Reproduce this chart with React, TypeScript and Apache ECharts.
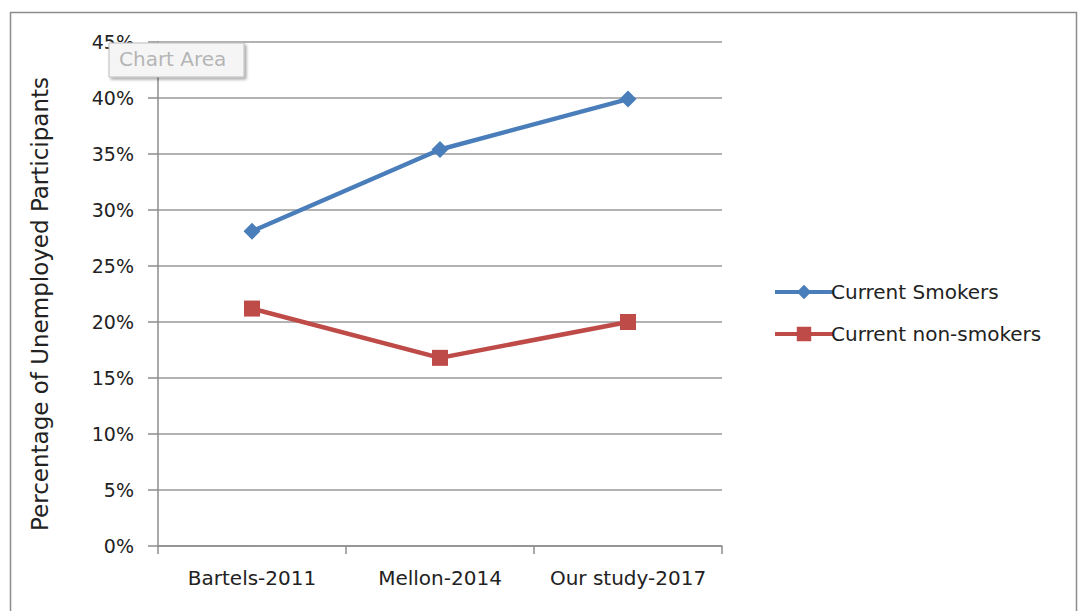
import React, { useEffect, useRef } from "react";
import * as echarts from "echarts";

const categories = ["Bartels-2011", "Mellon-2014", "Our study-2017"];
const smokers = [0.281, 0.354, 0.399];
const nonSmokers = [0.212, 0.168, 0.2];
const seriesNames = ["Current Smokers", "Current non-smokers"];
const yTicks = { min: 0, max: 0.45, interval: 0.05 };
const yTitle = "Percentage of Unemployed Participants";

export default function App() {
  const ref = useRef<HTMLDivElement>(null);
  useEffect(() => {
    document.body.style.margin = "0";
    const chart = echarts.init(ref.current!, null, { renderer: "svg" });
    const font = "'DejaVu Sans', 'Noto Sans', sans-serif";
    chart.setOption({
      animation: false,
      backgroundColor: "#ffffff",
      textStyle: { fontFamily: font },
      graphic: [
        {
          type: "rect",
          shape: { x: 10.5, y: 12.5, width: 1066, height: 620 },
          style: { fill: "none", stroke: "#8c8c8c", lineWidth: 1.5 },
          z: -1,
        },
        {
          type: "text",
          x: 40,
          y: 304,
          rotation: Math.PI / 2,
          style: {
            text: yTitle,
            fill: "#222",
            font: `23px ${font}`,
            align: "center",
            verticalAlign: "middle",
          },
        },
        {
          type: "rect",
          shape: { x: 109, y: 43, width: 135, height: 34 },
          style: {
            fill: "#f5f5f5",
            stroke: "#bdbdbd",
            lineWidth: 1,
            shadowBlur: 3,
            shadowColor: "rgba(0,0,0,0.35)",
            shadowOffsetX: 2,
            shadowOffsetY: 2,
          },
          z: 10,
        },
        {
          type: "text",
          x: 119,
          y: 49,
          style: { text: "Chart Area", fill: "#b5b5b5", font: `20px ${font}` },
          z: 11,
        },
      ],
      grid: { left: 158, top: 42, width: 564, height: 504, containLabel: false },
      legend: {
        orient: "vertical",
        left: 768,
        top: 277,
        itemWidth: 58,
        itemHeight: 18,
        itemGap: 22,
        lineStyle: { width: 4 },
        textStyle: { fontSize: 20, color: "#222", fontFamily: font, padding: [0, 0, 0, -7] },
        data: seriesNames,
      },
      xAxis: {
        type: "category",
        data: categories,
        boundaryGap: true,
        axisLine: { show: true, lineStyle: { color: "#8c8c8c", width: 1.5 } },
        axisTick: { show: true, length: 8, lineStyle: { color: "#8c8c8c", width: 1.5 } },
        axisLabel: { fontSize: 20, color: "#222", margin: 22, fontFamily: font, interval: 0, hideOverlap: false },
      },
      yAxis: {
        type: "value",
        min: yTicks.min,
        max: yTicks.max,
        interval: yTicks.interval,
        axisLine: { show: true, lineStyle: { color: "#8c8c8c", width: 1.5 } },
        axisTick: { show: true, length: 10, lineStyle: { color: "#8c8c8c", width: 1.5 } },
        axisLabel: {
          fontSize: 19,
          color: "#222",
          margin: 24,
          fontFamily: font,
          formatter: (v: number) => `${Math.round(v * 100)}%`,
        },
        splitLine: { show: true, lineStyle: { color: "#9a9a9a", width: 1.5 } },
      },
      series: [
        {
          name: seriesNames[0],
          type: "line",
          data: smokers,
          symbol: "diamond",
          symbolSize: 17,
          lineStyle: { color: "#4a7ebb", width: 4.5 },
          itemStyle: { color: "#4a7ebb" },
        },
        {
          name: seriesNames[1],
          type: "line",
          data: nonSmokers,
          symbol: "rect",
          symbolSize: 16,
          lineStyle: { color: "#be4b48", width: 4.5 },
          itemStyle: { color: "#be4b48" },
        },
      ],
    });
    return () => chart.dispose();
  }, []);
  return <div ref={ref} style={{ width: 1080, height: 611 }} />;
}
